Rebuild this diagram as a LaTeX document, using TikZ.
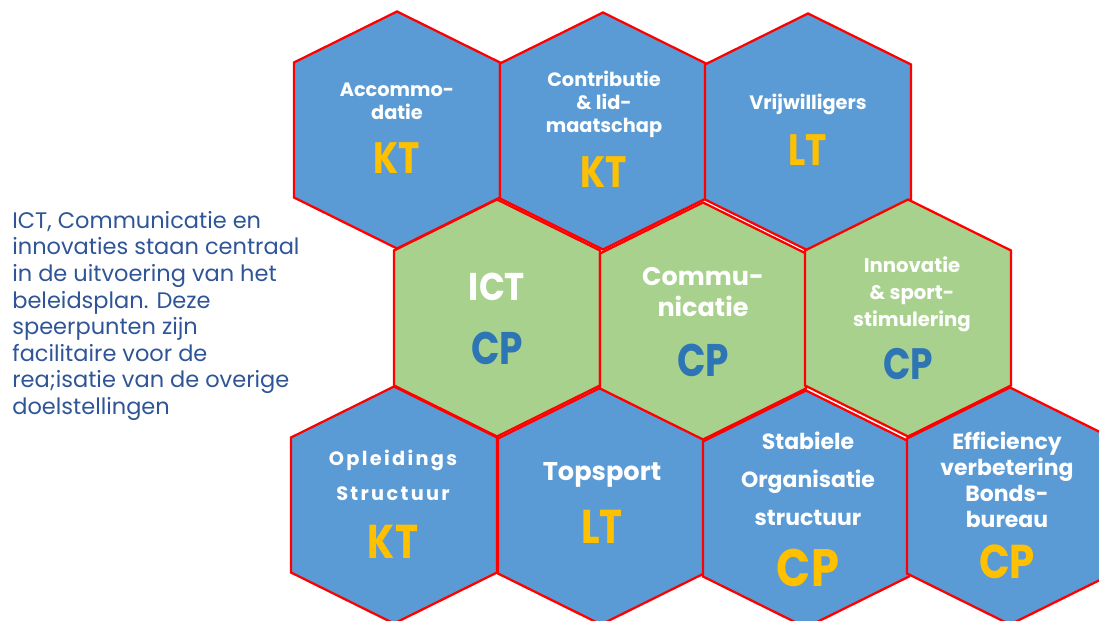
\documentclass[tikz,border=0pt]{standalone}
\usepackage{fontspec}
\setmainfont{Poppins}
\usetikzlibrary{positioning}
\definecolor{hexblue}{RGB}{91,155,213}
\definecolor{hexgreen}{RGB}{169,209,142}
\definecolor{hexred}{RGB}{255,0,0}
\definecolor{tagorange}{RGB}{255,192,0}
\definecolor{tagblue}{RGB}{46,117,182}
\definecolor{notenavy}{RGB}{47,85,151}
% hexagon with pointy top: centre x, centre y, fill colour
\newcommand{\hexcell}[3]{%
  \draw[hexedge, fill=#3] (#1,#2-118.5) -- ++(103,51) -- ++(0,135)
    -- ++(-103,51) -- ++(-103,-51) -- ++(0,-135) -- cycle;}

\begin{document}
\begin{tikzpicture}[x=0.02cm, y=-0.02cm,
  hexedge/.style={draw=hexred, line width=1.3pt, line join=miter},
  title/.style={text=white, font=\bfseries, align=center, inner sep=0pt},
  tag/.style={font=\bfseries, inner sep=0pt}]
\useasboundingbox (0,0) rectangle (1099,621);
\clip (0,0) rectangle (1099,621);
% Top row
\hexcell{397}{130}{hexblue}
\hexcell{603}{131}{hexblue}
\hexcell{808}{132}{hexblue}
% Bottom row
\hexcell{394}{505}{hexblue}
\hexcell{601}{506}{hexblue}
\hexcell{806}{509}{hexblue}
\hexcell{1010}{506}{hexblue}
% Middle row
\hexcell{497}{318}{hexgreen}
\hexcell{703}{321}{hexgreen}
\hexcell{908}{318}{hexgreen}
% Titles and tags, top row
\node[title, font=\bfseries\fontsize{11}{13}\selectfont] (accom) at (397,101) {Accommo-\\datie};
\node[tag, text=tagorange, font=\bfseries\fontsize{25}{25}\selectfont\addfontfeatures{FakeStretch=0.82}] (accomtag) at (397,158) {KT};
\node[title, font=\bfseries\fontsize{11}{13}\selectfont] (contr) at (604,104) {Contributie\\\& lid-\\maatschap};
\node[tag, text=tagorange, font=\bfseries\fontsize{25}{25}\selectfont\addfontfeatures{FakeStretch=0.82}] (contrtag) at (604,172) {KT};
\node[title, font=\bfseries\fontsize{11}{13}\selectfont] (vrijw) at (808,104) {Vrijwilligers};
\node[tag, text=tagorange, font=\bfseries\fontsize{25}{25}\selectfont\addfontfeatures{FakeStretch=0.82}] (vrijwtag) at (808,150) {LT};
% Middle row
\node[title, font=\bfseries\fontsize{22}{22}\selectfont\addfontfeatures{FakeStretch=0.88}] (ict) at (497,287) {ICT};
\node[tag, text=tagblue, font=\bfseries\fontsize{26}{26}\selectfont\addfontfeatures{FakeStretch=0.82}] (icttag) at (497,348) {CP};
\node[title, font=\bfseries\fontsize{14.5}{17.5}\selectfont] (comm) at (703,292) {Commu-\\nicatie};
\node[tag, text=tagblue, font=\bfseries\fontsize{26}{26}\selectfont\addfontfeatures{FakeStretch=0.82}] (commtag) at (703,360) {CP};
\node[title, font=\bfseries\fontsize{11.2}{15.3}\selectfont] (innov) at (912,294) {Innovatie\\\& sport-\\stimulering};
\node[tag, text=tagblue, font=\bfseries\fontsize{25}{25}\selectfont\addfontfeatures{FakeStretch=0.82}] (innovtag) at (908,364) {CP};
% Bottom row
\node[title, font=\bfseries\fontsize{11}{20}\selectfont\addfontfeatures{LetterSpace=12}] (oplei) at (393,475) {Opleidings\\Structuur};
\node[tag, text=tagorange, font=\bfseries\fontsize{27}{27}\selectfont\addfontfeatures{FakeStretch=0.82}] (opleitag) at (393,542) {KT};
\node[title, font=\bfseries\fontsize{14.6}{17}\selectfont] (tops) at (602,475) {Topsport};
\node[tag, text=tagorange, font=\bfseries\fontsize{27}{27}\selectfont\addfontfeatures{FakeStretch=0.82}] (topstag) at (602,527) {LT};
\node[title, font=\bfseries\fontsize{12.5}{21.5}\selectfont] (stab) at (808,479) {Stabiele\\Organisatie\\structuur};
\node[tag, text=tagorange, font=\bfseries\fontsize{30}{30}\selectfont\addfontfeatures{FakeStretch=0.85}] (stabtag) at (808,568) {CP};
\node[title, font=\bfseries\fontsize{12.5}{14.8}\selectfont] (effic) at (1007,480) {Efficiency\\verbetering\\Bonds-\\bureau};
\node[tag, text=tagorange, font=\bfseries\fontsize{27}{27}\selectfont\addfontfeatures{FakeStretch=0.85}] (efftag) at (1007,562) {CP};
% Note at the left
\node[anchor=north west, align=left, text=notenavy, inner sep=0pt,
  font=\fontsize{12.8}{15.1}\selectfont] (note) at (12,211)
  {ICT, Communicatie en\\innovaties staan centraal\\in de uitvoering van het\\beleidsplan. Deze\\speerpunten zijn\\facilitaire voor de\\rea;isatie van de overige\\doelstellingen};
\end{tikzpicture}
\end{document}
